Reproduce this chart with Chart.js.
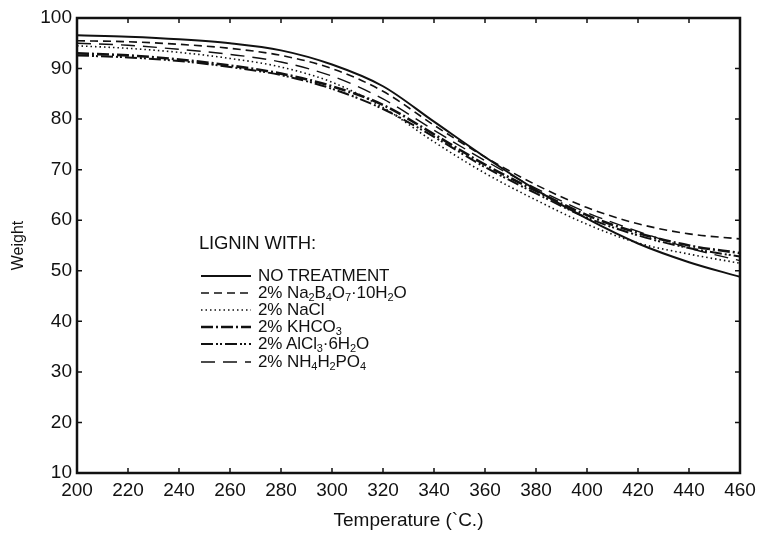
<!DOCTYPE html>
<html>
<head>
<meta charset="utf-8">
<script src="https://cdn.jsdelivr.net/npm/chart.js@4"></script>
<style>
  html,body{margin:0;padding:0;background:#fff;}
  #wrap{position:relative;width:757px;height:533px;}
  #legend{position:absolute;left:199px;top:232px;font-family:"Liberation Sans",Arial,sans-serif;color:#111;}
  #legend .head{font-size:18.5px;letter-spacing:-0.2px;height:22px;line-height:22px;margin-bottom:13px;}
  #legend .row{display:flex;align-items:center;height:17.2px;font-size:17px;letter-spacing:-0.1px;white-space:nowrap;}
  #legend svg{margin-right:6px;flex:none;}
  #legend sub{font-size:11px;vertical-align:-3px;line-height:0;}
</style>
</head>
<body>
<div id="wrap">
  <canvas id="c" width="757" height="533"></canvas>
  <div id="legend"></div>
</div>
<script>
// ---- data ----
const temperatures = [200,220,240,260,280,300,320,340,360,380,400,420,440,460];
const noTreatment  = [96.6,96.3,95.8,95.0,93.6,90.8,86.5,79.5,72.5,66.0,60.3,55.4,51.7,48.8];
const naBorate     = [95.5,95.3,94.8,94.0,92.6,90.0,85.5,78.8,72.5,67.0,62.5,59.3,57.3,56.3];
const naCl         = [94.5,94.0,93.2,92.0,90.3,87.3,82.3,75.5,69.3,64.0,59.2,55.5,53.3,51.5];
const khco3        = [93.0,92.6,91.8,90.6,89.0,86.5,82.8,77.0,71.0,65.8,61.0,57.5,55.0,53.5];
const alCl3        = [92.6,92.2,91.5,90.3,88.7,86.0,82.0,76.5,70.5,65.3,60.5,57.0,54.5,52.8];
const nh4h2po4     = [95.0,94.6,93.8,92.8,91.3,88.5,84.0,77.8,71.8,66.3,61.5,57.8,54.5,52.0];
const seriesNames  = ["NO TREATMENT","2% Na2B4O7·10H2O","2% NaCl","2% KHCO3","2% AlCl3·6H2O","2% NH4H2PO4"];
const seriesLabelsHtml = ["NO TREATMENT","2% Na<sub>2</sub>B<sub>4</sub>O<sub>7</sub>·10H<sub>2</sub>O","2% NaCl","2% KHCO<sub>3</sub>","2% AlCl<sub>3</sub>·6H<sub>2</sub>O","2% NH<sub>4</sub>H<sub>2</sub>PO<sub>4</sub>"];
const xTickLabels = [200,220,240,260,280,300,320,340,360,380,400,420,440,460];
const yTickLabels = [10,20,30,40,50,60,70,80,90,100];

const seriesValues = [noTreatment, naBorate, naCl, khco3, alCl3, nh4h2po4];
const styles = [
  {w:2.0, dash:[]},
  {w:1.6, dash:[8,5]},
  {w:1.6, dash:[1.5,3]},
  {w:2.6, dash:[12,3,2,3]},
  {w:2.0, dash:[12,3,2,2,2,3]},
  {w:1.4, dash:[14,8]}
];

const FONT = "'Liberation Sans', Arial, sans-serif";

const datasets = seriesValues.map((vals,i)=>({
  label: seriesNames[i],
  data: temperatures.map((t,j)=>({x:t,y:vals[j]})),
  borderColor:'#111',
  borderWidth: styles[i].w,
  borderDash: styles[i].dash,
  pointRadius:0,
  fill:false,
  cubicInterpolationMode:'monotone'
}));

const frameTicks = {
  id:'frameTicks',
  afterDraw(chart){
    const {ctx, chartArea:a, scales:{x,y}} = chart;
    ctx.save();
    ctx.strokeStyle='#111';
    ctx.lineWidth=1.5;
    const L=5;
    ctx.beginPath();
    x.ticks.forEach(t=>{
      const px=x.getPixelForValue(t.value);
      ctx.moveTo(px,a.bottom); ctx.lineTo(px,a.bottom-L);
      ctx.moveTo(px,a.top); ctx.lineTo(px,a.top+L);
    });
    y.ticks.forEach(t=>{
      const py=y.getPixelForValue(t.value);
      ctx.moveTo(a.left,py); ctx.lineTo(a.left+L,py);
      ctx.moveTo(a.right,py); ctx.lineTo(a.right-L,py);
    });
    ctx.stroke();
    ctx.lineWidth=2.5;
    ctx.strokeRect(a.left,a.top,a.right-a.left,a.bottom-a.top);
    ctx.restore();
  }
};

new Chart(document.getElementById('c'),{
  type:'line',
  data:{datasets},
  options:{
    responsive:false,
    animation:false,
    layout:{padding:{top:18,right:17,left:0,bottom:0}},
    plugins:{legend:{display:false},tooltip:{enabled:false}},
    scales:{
      x:{
        type:'linear',min:200,max:460,
        afterBuildTicks(s){ s.ticks = xTickLabels.map(v=>({value:v})); },
        afterFit(s){ s.height = 60; s.paddingLeft = 0; s.paddingRight = 0; },
        grid:{display:false,drawTicks:false},
        border:{display:false},
        ticks:{color:'#111',font:{family:FONT,size:19},padding:6,maxRotation:0,autoSkip:false},
        title:{display:true,text:'Temperature (`C.)',color:'#111',font:{family:FONT,size:19},padding:{top:0,bottom:1}}
      },
      y:{
        type:'linear',min:10,max:100,
        afterBuildTicks(s){ s.ticks = yTickLabels.map(v=>({value:v})); },
        afterFit(s){ s.width = 77; s.paddingTop = 0; s.paddingBottom = 0; },
        grid:{display:false,drawTicks:false},
        border:{display:false},
        ticks:{color:'#111',font:{family:FONT,size:19},padding:5,autoSkip:false},
        title:{display:true,text:'Weight',color:'#111',font:{family:FONT,size:16},padding:{top:9,bottom:0}}
      }
    }
  },
  plugins:[frameTicks]
});

// legend (HTML text)
const lg = document.getElementById('legend');
let html = '<div class="head">LIGNIN WITH:</div>';
styles.forEach((s,i)=>{
  html += '<div class="row"><svg width="53" height="8"><line x1="2" y1="4" x2="52" y2="4" stroke="#111" stroke-width="'+s.w+'" stroke-dasharray="'+(s.dash.length?s.dash.join(','):'none')+'"/></svg><span>'+seriesLabelsHtml[i]+'</span></div>';
});
lg.innerHTML = html;
</script>
</body>
</html>
